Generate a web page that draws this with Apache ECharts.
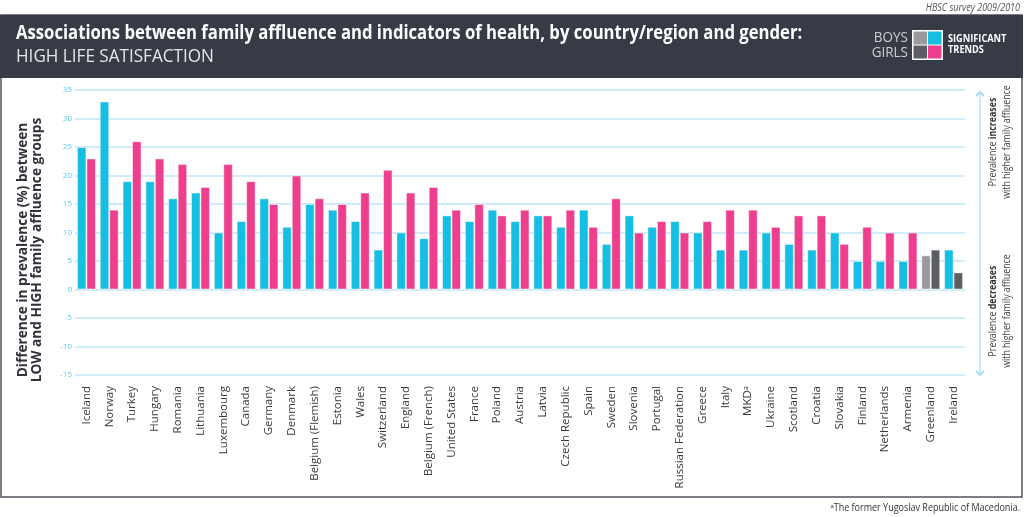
<!DOCTYPE html>
<html>
<head>
<meta charset="utf-8">
<script src="https://cdn.jsdelivr.net/npm/echarts@6/dist/echarts.min.js"></script>
<style>
html,body{margin:0;padding:0;background:#fff;}
#chart{width:1024px;height:517px;}
</style>
</head>
<body>
<div id="chart"></div>
<script>
const categories = ["Iceland","Norway","Turkey","Hungary","Romania","Lithuania","Luxembourg","Canada","Germany","Denmark","Belgium (Flemish)","Estonia","Wales","Switzerland","England","Belgium (French)","United States","France","Poland","Austria","Latvia","Czech Republic","Spain","Sweden","Slovenia","Portugal","Russian Federation","Greece","Italy","MKDᵃ","Ukraine","Scotland","Croatia","Slovakia","Finland","Netherlands","Armenia","Greenland","Ireland"];
const boys  = [25,33,19,19,16,17,10,12,16,11,15,14,12,7,10,9,13,12,14,12,13,11,14,8,13,11,12,10,7,7,10,8,7,10,5,5,5,6,7];
const girls = [23,14,26,23,22,18,22,19,15,20,16,15,17,21,17,18,14,15,13,14,13,14,11,16,10,12,10,12,14,14,11,13,13,8,11,10,10,7,3];
// significance of the trend (1 = significant, 0 = not significant)
const boysSig  = [1,1,1,1,1,1,1,1,1,1,1,1,1,1,1,1,1,1,1,1,1,1,1,1,1,1,1,1,1,1,1,1,1,1,1,1,1,0,1];
const girlsSig = [1,1,1,1,1,1,1,1,1,1,1,1,1,1,1,1,1,1,1,1,1,1,1,1,1,1,1,1,1,1,1,1,1,1,1,1,1,0,0];
const yTicks = {min:-15, max:35, interval:5};

const C_BOY = '#15bee3', C_GIRL = '#ee3f8e', C_BOY_NS = '#9b999e', C_GIRL_NS = '#5c5d65';
const FF = '"Open Sans","Noto Sans",sans-serif';

const chart = echarts.init(document.getElementById('chart'));
const mk = (vals, sig, c, cns) => vals.map((v,i)=>({value:v, itemStyle:{color: sig[i]?c:cns}}));

const option = {
  animation:false,
  backgroundColor:'#fff',
  grid:{left:75, right:59, top:90, bottom:142, containLabel:false},
  xAxis:{
    type:'category', data:categories,
    axisLine:{show:false, onZero:false}, axisTick:{show:false},
    axisLabel:{rotate:90, interval:0, margin:11, color:'#3a3a3a', fontSize:11.5, fontFamily:FF}
  },
  yAxis:{
    type:'value', min:yTicks.min, max:yTicks.max, interval:yTicks.interval,
    axisLine:{show:false}, axisTick:{show:false},
    axisLabel:{color:'#5cc9ee', fontSize:8, margin:3, fontFamily:FF},
    splitLine:{lineStyle:{color:'#bfe6f6', width:1.5}}
  },
  series:[
    {type:'bar', name:'Boys', data:mk(boys,boysSig,C_BOY,C_BOY_NS), barGap:'0%', barCategoryGap:'17%',
     itemStyle:{borderColor:'rgba(255,255,255,0.45)', borderWidth:1}},
    {type:'bar', name:'Girls', data:mk(girls,girlsSig,C_GIRL,C_GIRL_NS), barGap:'0%', barCategoryGap:'17%',
     itemStyle:{borderColor:'rgba(255,255,255,0.45)', borderWidth:1}}
  ],
  graphic:[
    {type:'rect', z:-10, shape:{x:1,y:15,width:1021,height:482}, style:{fill:'none', stroke:'#4f545d', lineWidth:1.5}},
    {type:'rect', z:-5, shape:{x:0,y:15,width:1023,height:63}, style:{fill:'#363b45'}},
    {type:'text', x:1020, y:8, style:{text:'HBSC survey 2009/2010', fill:'#555', font:'italic 10px '+FF, align:'right', verticalAlign:'middle'}, scaleX:0.9},
    {type:'text', x:16, y:34, scaleX:0.878, style:{text:'Associations between family affluence and indicators of health, by country/region and gender:', fill:'#fff', font:'bold 19px '+FF, verticalAlign:'middle'}},
    {type:'text', x:16, y:57, scaleX:0.95, style:{text:'HIGH LIFE SATISFACTION', fill:'#e6e6e6', font:'18px '+FF, verticalAlign:'middle'}},
    // y-axis title
    {type:'text', x:30, y:250, rotation:Math.PI/2, scaleX:0.91, style:{
      text:'Difference in prevalence (%) between\nLOW and HIGH family affluence groups', align:'center', verticalAlign:'middle',
      fill:'#2f333b', font:'bold 15px '+FF, lineHeight:14}},
    // legend
    {type:'text', x:908, y:38, scaleX:0.9, style:{text:'BOYS', fill:'#cfcfd2', font:'15px '+FF, align:'right', verticalAlign:'middle'}},
    {type:'text', x:908, y:53, scaleX:0.9, style:{text:'GIRLS', fill:'#cfcfd2', font:'15px '+FF, align:'right', verticalAlign:'middle'}},
    {type:'rect', shape:{x:912,y:30,width:31,height:30}, style:{fill:'#ffffff'}},
    {type:'rect', shape:{x:913.5,y:31.5,width:13.5,height:13}, style:{fill:C_BOY_NS}},
    {type:'rect', shape:{x:928,y:31.5,width:13.5,height:13}, style:{fill:C_BOY}},
    {type:'rect', shape:{x:913.5,y:45.5,width:13.5,height:13}, style:{fill:C_GIRL_NS}},
    {type:'rect', shape:{x:928,y:45.5,width:13.5,height:13}, style:{fill:C_GIRL}},
    {type:'text', x:948, y:39, scaleX:0.92, style:{text:'SIGNIFICANT', fill:'#fff', font:'bold 10px '+FF, verticalAlign:'middle'}},
    {type:'text', x:948, y:50, scaleX:0.92, style:{text:'TRENDS', fill:'#fff', font:'bold 10px '+FF, verticalAlign:'middle'}},
    // right arrow annotation
    {type:'line', shape:{x1:980,y1:92,x2:980,y2:375}, style:{stroke:'#a8dcf2', lineWidth:1.2}},
    {type:'polyline', shape:{points:[[976,96],[980,92],[984,96]]}, style:{stroke:'#a8dcf2', lineWidth:2, fill:null}},
    {type:'polyline', shape:{points:[[976,371],[980,375],[984,371]]}, style:{stroke:'#a8dcf2', lineWidth:2, fill:null}},
    {type:'text', x:1000, y:142, rotation:Math.PI/2, scaleX:0.8, style:{
      text:'{n|Prevalence }{b|increases}\n{n|with higher family affluence}', align:'center', verticalAlign:'middle',
      rich:{n:{fill:'#444', font:'11px '+FF, lineHeight:14}, b:{fill:'#333', font:'bold 11px '+FF, lineHeight:14}}}},
    {type:'text', x:1000, y:311, rotation:Math.PI/2, scaleX:0.8, style:{
      text:'{n|Prevalence }{b|decreases}\n{n|with higher family affluence}', align:'center', verticalAlign:'middle',
      rich:{n:{fill:'#444', font:'11px '+FF, lineHeight:14}, b:{fill:'#333', font:'bold 11px '+FF, lineHeight:14}}}},
    {type:'text', x:1020, y:508, scaleX:0.9, style:{text:'ᵃThe former Yugoslav Republic of Macedonia.', fill:'#333', font:'10px '+FF, align:'right', verticalAlign:'middle'}}
  ]
};
chart.setOption(option);
</script>
</body>
</html>
